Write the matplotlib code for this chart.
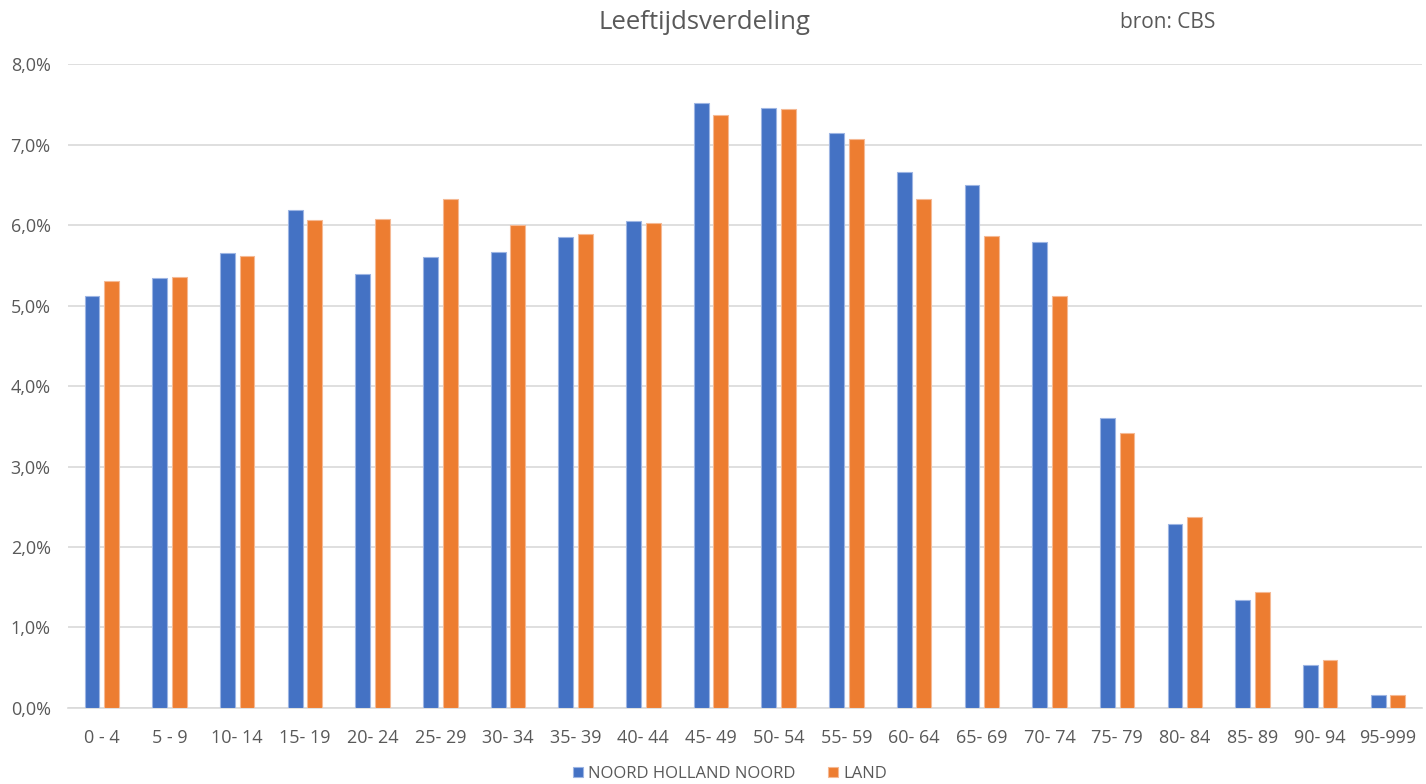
import numpy as np
import matplotlib.pyplot as plt
from matplotlib.ticker import FuncFormatter

# leeftijdsgroepen en aandelen (in %)
categories = ['0 - 4', '5 - 9', '10- 14', '15- 19', '20- 24', '25- 29', '30- 34',
              '35- 39', '40- 44', '45- 49', '50- 54', '55- 59', '60- 64', '65- 69',
              '70- 74', '75- 79', '80- 84', '85- 89', '90- 94', '95-999']
nhn = [5.12, 5.34, 5.65, 6.19, 5.39, 5.61, 5.67, 5.85, 6.05, 7.52,
       7.46, 7.14, 6.66, 6.50, 5.79, 3.60, 2.29, 1.34, 0.53, 0.16]
land = [5.31, 5.36, 5.62, 6.06, 6.08, 6.33, 6.00, 5.89, 6.03, 7.37,
        7.44, 7.07, 6.33, 5.87, 5.12, 3.42, 2.37, 1.44, 0.60, 0.16]

blue = '#4472C4'
orange = '#ED7D31'
grey = '#595959'

def main():
	plt.rcParams['font.family'] = ['Open Sans', 'DejaVu Sans']

	fig = plt.figure(figsize=(14.26, 7.84), dpi=100)
	ax = fig.add_axes([0.0477, 0.097, 0.9493, 0.821])

	x = np.arange(len(categories))
	w = 0.22
	ax.bar(x - 0.145, nhn, w, color=blue, edgecolor='#9DB5E3', linewidth=0.8,
	       label='NOORD HOLLAND NOORD', zorder=3)
	ax.bar(x + 0.145, land, w, color=orange, edgecolor='#F5B994', linewidth=0.8,
	       label='LAND', zorder=3)

	ax.set_xlim(-0.5, len(categories) - 0.5)
	ax.set_ylim(0, 8)
	ax.set_yticks(np.arange(0, 9, 1))
	ax.yaxis.set_major_formatter(FuncFormatter(lambda v, p: ('%.1f%%' % v).replace('.', ',')))
	ax.set_xticks(x)
	ax.set_xticklabels(categories)

	ax.grid(axis='y', color='#D9D9D9', linewidth=1.2, zorder=0)
	for s in ['top', 'right', 'left']:
		ax.spines[s].set_visible(False)
	ax.spines['bottom'].set_color('#D9D9D9')
	ax.spines['bottom'].set_linewidth(1.2)
	ax.tick_params(axis='both', length=0, colors=grey, labelsize=13)
	ax.tick_params(axis='x', pad=15)
	ax.tick_params(axis='y', pad=12.5)

	fig.text(0.494, 0.971, 'Leeftijdsverdeling', ha='center', va='center',
	         fontsize=18.5, color=grey)
	fig.text(0.819, 0.971, 'bron: CBS', ha='center', va='center',
	         fontsize=15, color=grey)

	ax.legend(loc='center', bbox_to_anchor=(0.489, -0.1025), ncol=2, frameon=False,
	          fontsize=12, labelcolor=grey, handlelength=0.6, handleheight=0.6,
	          handletextpad=0.3, columnspacing=2.0)

	fig.savefig('out.png', dpi=100)
	plt.close()


if __name__ == '__main__':
	main()
